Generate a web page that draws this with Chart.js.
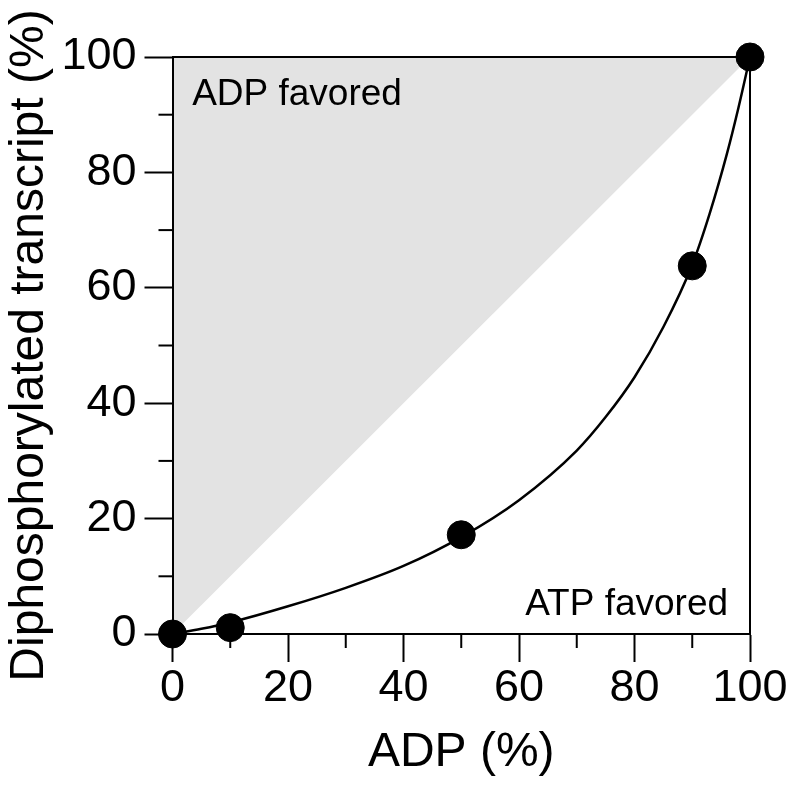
<!DOCTYPE html>
<html>
<head>
<meta charset="utf-8">
<script src="https://cdn.jsdelivr.net/npm/chart.js@4/dist/chart.umd.min.js"></script>
<style>
  html, body { margin: 0; padding: 0; background: #fff; }
  #wrap { width: 800px; height: 790px; position: relative; }
</style>
</head>
<body>
<div id="wrap"><canvas id="myChart"></canvas></div>
<script>
// measured points
var adp_pts = [0, 10, 50, 90, 100];
var trans_pts = [0, 1.1, 17.2, 63.8, 100];
// fitted curve
var fit_adp = [0, 5, 10, 20, 30, 40, 50, 60, 70, 75, 80, 85, 90, 93, 96, 98, 100];
var fit_trans = [0, 0.9, 2.0, 4.8, 8.0, 11.8, 16.8, 23.2, 31.8, 37.6, 44.5, 53.2, 64.0, 72.8, 83.2, 91.2, 100];
// equal line (edge of the shaded zone)
var diag_adp = [0, 100];
var diag_trans = [0, 100];
var major_step = 20;
var minor_step = 10;

var FONT = 'Arial, "Liberation Sans", sans-serif';

function xy(xs, ys) {
  return xs.map((x, i) => ({x: x, y: ys[i]}));
}

function tick_col(ctx) {
  return ctx.tick && ctx.tick.value % major_step === 0 ? '#000' : 'rgba(0,0,0,0)';
}

// top/right frame and the short minor ticks
const framePlugin = {
  id: 'frame',
  beforeDatasetsDraw(chart) {
    const c = chart.ctx, a = chart.chartArea;
    const xs = chart.scales.x, ys = chart.scales.y;
    c.save();
    c.strokeStyle = '#000';
    c.lineWidth = 2;
    c.beginPath();
    c.moveTo(a.left, a.top);
    c.lineTo(a.right, a.top);
    c.lineTo(a.right, a.bottom);
    c.stroke();
    for (let v = minor_step; v < 100; v += major_step) {
      const px = xs.getPixelForValue(v);
      c.beginPath(); c.moveTo(px, a.bottom); c.lineTo(px, a.bottom + 14); c.stroke();
      const py = ys.getPixelForValue(v);
      c.beginPath(); c.moveTo(a.left, py); c.lineTo(a.left - 14, py); c.stroke();
    }
    c.restore();
  },
  afterDatasetsDraw(chart) {
    const c = chart.ctx;
    const xs = chart.scales.x, ys = chart.scales.y;
    c.save();
    c.fillStyle = '#000';
    c.font = '37px ' + FONT;
    c.textBaseline = 'alphabetic';
    c.textAlign = 'left';
    c.fillText('ADP favored', xs.getPixelForValue(3.4), ys.getPixelForValue(91.7));
    c.textAlign = 'right';
    c.fillText('ATP favored', xs.getPixelForValue(96.2), ys.getPixelForValue(3.3));
    c.restore();
  }
};

const ctx = document.getElementById('myChart');
new Chart(ctx, {
  type: 'scatter',
  data: {
    datasets: [
      {
        data: xy(adp_pts, trans_pts),
        backgroundColor: '#000',
        borderColor: '#000',
        pointRadius: 14,
        pointHoverRadius: 14,
        showLine: false,
        clip: false,
        order: 0
      },
      {
        data: xy(fit_adp, fit_trans),
        showLine: true,
        borderColor: '#000',
        borderWidth: 2.5,
        pointRadius: 0,
        cubicInterpolationMode: 'monotone',
        fill: false,
        clip: false,
        order: 1
      },
      {
        data: xy(diag_adp, diag_trans),
        showLine: true,
        borderWidth: 0,
        borderColor: 'rgba(0,0,0,0)',
        backgroundColor: '#e3e3e3',
        pointRadius: 0,
        fill: 'end',
        order: 2
      }
    ]
  },
  options: {
    responsive: true,
    maintainAspectRatio: false,
    animation: false,
    events: [],
    layout: { padding: { top: 57, right: 50, bottom: 0, left: 0 } },
    plugins: {
      legend: { display: false },
      tooltip: { enabled: false },
      filler: { drawTime: 'beforeDraw' }
    },
    scales: {
      x: {
        type: 'linear',
        min: 0, max: 100,
        border: { display: true, color: '#000', width: 2 },
        grid: { drawOnChartArea: false, drawTicks: true, tickLength: 28, tickWidth: 2, tickColor: tick_col },
        ticks: {
          stepSize: minor_step, autoSkip: false, maxRotation: 0, padding: 0,
          color: '#000', font: { family: FONT, size: 45 },
          callback: (v) => v % major_step === 0 ? v : ''
        },
        title: {
          display: true, text: 'ADP (%)', color: '#000',
          font: { family: FONT, size: 48 }, padding: { top: 0, bottom: 8 }
        },
        afterFit(s) {
          s.height = 156;
          s.paddingLeft = 0; s.paddingRight = 0; s.paddingTop = 0; s.paddingBottom = 0;
        }
      },
      y: {
        type: 'linear',
        min: 0, max: 100,
        border: { display: true, color: '#000', width: 2 },
        grid: { drawOnChartArea: false, drawTicks: true, tickLength: 28, tickWidth: 2, tickColor: tick_col },
        ticks: {
          stepSize: minor_step, autoSkip: false, padding: 8,
          color: '#000', font: { family: FONT, size: 45 },
          callback: (v) => v % major_step === 0 ? v : ''
        },
        title: {
          display: true, text: 'Diphosphorylated transcript (%)', color: '#000',
          font: { family: FONT, size: 48 }, padding: { top: 1, bottom: 0 }
        },
        afterFit(s) {
          s.width = 172.5;
          s.paddingLeft = 0; s.paddingRight = 0; s.paddingTop = 0; s.paddingBottom = 0;
        }
      }
    }
  },
  plugins: [framePlugin]
});
</script>
</body>
</html>
